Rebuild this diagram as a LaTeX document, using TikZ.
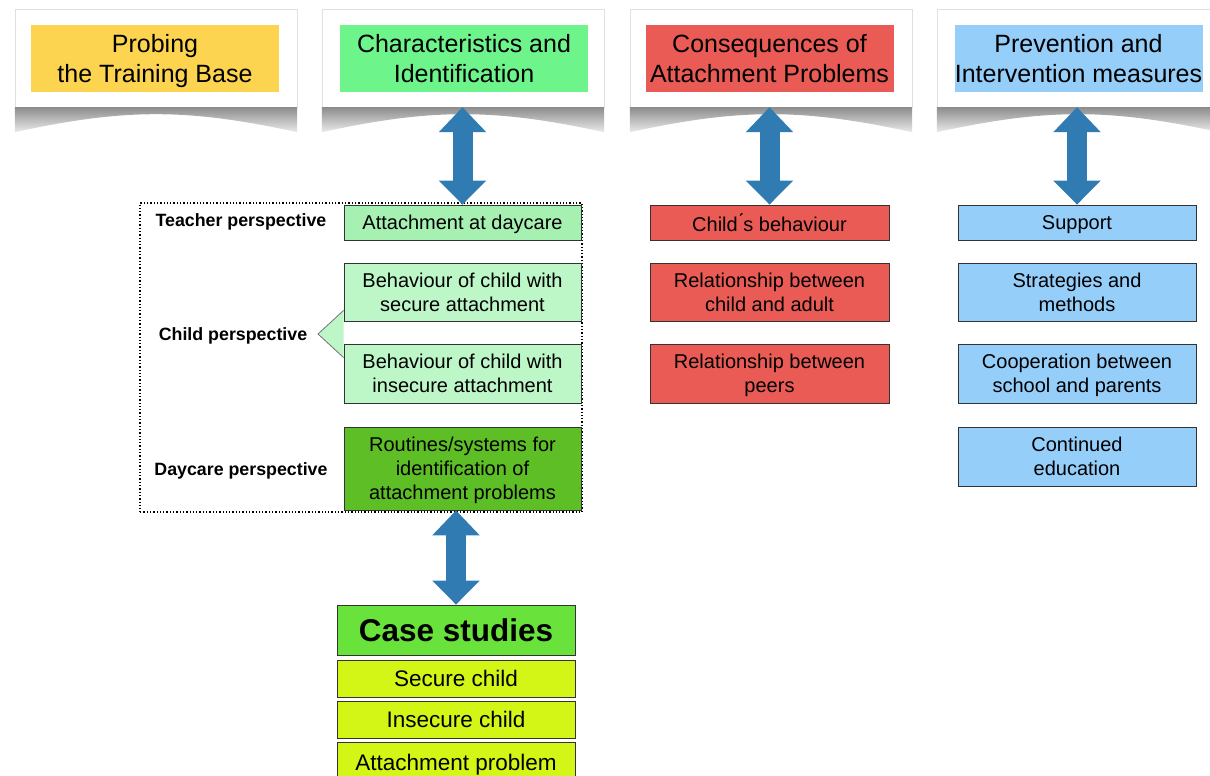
\documentclass[tikz,border=0pt]{standalone}
\usepackage{fontspec}
\setmainfont{Liberation Sans}
\usepackage{tikz}
\usetikzlibrary{arrows.meta,calc}
\usepackage{xcolor}

\definecolor{hyellow}{HTML}{FCD44F}
\definecolor{hgreen}{HTML}{6DF58B}
\definecolor{hred}{HTML}{EA5B55}
\definecolor{hblue}{HTML}{96CEFA}
\definecolor{arrowblue}{HTML}{2F7BB2}
\definecolor{attgreen}{HTML}{A6F1B2}
\definecolor{behgreen}{HTML}{BDF7C8}
\definecolor{routgreen}{HTML}{5EBE25}
\definecolor{casegreen}{HTML}{69E23C}
\definecolor{caselime}{HTML}{D3F617}

\begin{document}
\begin{tikzpicture}[x=1pt,y=-1pt,
    card/.style={fill=white,draw=black!12,minimum width=282pt,minimum height=98pt,inner sep=0pt},
    head/.style={minimum width=248pt,minimum height=67pt,inner sep=0pt,text depth=-3pt,align=center,font=\fontsize{25}{30}\selectfont},
    box/.style={draw=black!80,line width=0.8pt,inner sep=0pt,text depth=-3pt,align=center,font=\fontsize{20}{24}\selectfont},
    persp/.style={text depth=-2pt,font=\bfseries\fontsize{17.8}{20}\selectfont},
    bigarrow/.style={arrowblue,line width=20pt,{Triangle[width=46pt,length=25pt]}-{Triangle[width=46pt,length=24pt]}}]
    \useasboundingbox (0,0) rectangle (1210,776);

    % heading cards
    \node[card] (c1) at (156, 58) {};
    \node[card] (c2) at (463, 58) {};
    \node[card] (c3) at (771, 58) {};
    \node[card] (c4) at (1078, 58) {};
    \foreach \c in {c1,c2,c3,c4} {
        \shade[top color=black!45,bottom color=black!8]
        (\c.south west) -- (\c.south east) -- ++(0,25)
        .. controls +(-110,-24) and +(110,-24) .. ($(\c.south west)+(0,25)$) -- cycle;
    }
    \node[head,fill=hyellow] (hprobe) at (155, 58.5) {Probing\\the Training Base};
    \node[head,fill=hgreen] (hchar) at (464, 58.5) {Characteristics and\\Identification};
    \node[head,fill=hred] (hcons) at (769.5, 58.5) {Consequences of\\Attachment Problems};
    \node[head,fill=hblue] (hprev) at (1078.5, 58.5) {Prevention and\\Intervention measures};

    % dotted frame round the identification column
    \node[draw,dotted,line width=1.3pt,minimum width=442pt,minimum height=309pt] (frame) at (361, 357.5) {};

    % identification column
    \node[box,fill=attgreen,minimum width=237pt,minimum height=35pt] (att) at (462.5, 222.5) {Attachment at daycare};
    \node[box,fill=behgreen,minimum width=237pt,minimum height=58pt] (secure) at (462.5, 292) {Behaviour of child with\\secure attachment};
    \node[box,fill=behgreen,minimum width=237pt,minimum height=59pt] (insecure) at (462.5, 373.5) {Behaviour of child with\\insecure attachment};
    \node[box,fill=routgreen,minimum width=237pt,minimum height=83pt] (routines) at (462.5, 468.5) {Routines/systems for\\identification of\\attachment problems};

    \node[persp] (tpersp) at (241, 220) {Teacher perspective};
    \node[persp] (cpersp) at (233, 334) {Child perspective};
    \node[persp] (dpersp) at (241, 469) {Daycare perspective};

    \coordinate (ctip) at (318, 334);
    \fill[behgreen] ($(secure.south west)+(0,-11)$) -- (ctip) -- ($(insecure.north west)+(0,14)$) -- cycle;
    \draw[black!55,line width=0.8pt] ($(secure.south west)+(0,-11)$) -- (ctip) -- ($(insecure.north west)+(0,14)$);

    % consequences column
    \node[box,fill=hred,minimum width=239pt,minimum height=35pt] (cbeh) at (769.5, 222.5) {Child\'{}s behaviour};
    \node[box,fill=hred,minimum width=239pt,minimum height=58pt] (rchild) at (769.5, 292) {Relationship between\\child and adult};
    \node[box,fill=hred,minimum width=239pt,minimum height=59pt] (rpeers) at (769.5, 373.5) {Relationship between\\peers};

    % prevention column
    \node[box,fill=hblue,minimum width=238pt,minimum height=35pt] (supp) at (1077, 222.5) {Support};
    \node[box,fill=hblue,minimum width=238pt,minimum height=58pt] (strat) at (1077, 292) {Strategies and\\methods};
    \node[box,fill=hblue,minimum width=238pt,minimum height=59pt] (coop) at (1077, 373.5) {Cooperation between\\school and parents};
    \node[box,fill=hblue,minimum width=238pt,minimum height=59pt] (cont) at (1077, 456.5) {Continued\\education};

    % case studies
    \node[box,fill=casegreen,minimum width=238pt,minimum height=50pt,font=\bfseries\fontsize{31.5}{36}\selectfont] (cases) at (456, 630) {Case studies};
    \node[box,fill=caselime,minimum width=238pt,minimum height=37pt,font=\fontsize{22.5}{26}\selectfont] (secchild) at (456, 678.5) {Secure child};
    \node[box,fill=caselime,minimum width=238pt,minimum height=37pt,font=\fontsize{22.5}{26}\selectfont] (insecchild) at (456, 719.5) {Insecure child};
    \node[box,fill=caselime,minimum width=238pt,minimum height=40pt,font=\fontsize{22.5}{26}\selectfont] (attprob) at (456, 762) {Attachment problem};

    % double arrows
    \draw[bigarrow] (att.north |- c2.south) -- (att.north);
    \draw[bigarrow] (cbeh.north |- c3.south) -- (cbeh.north);
    \draw[bigarrow] (supp.north |- c4.south) -- (supp.north);
    \draw[bigarrow] (cases.north |- routines.south) -- (cases.north);
\end{tikzpicture}
\end{document}
